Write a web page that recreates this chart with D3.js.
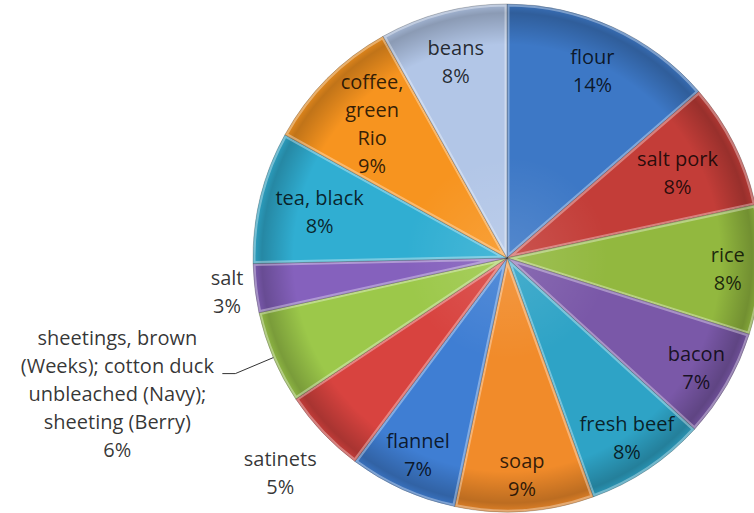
<!DOCTYPE html>
<html>
<head>
<meta charset="utf-8">
<script src="https://cdn.jsdelivr.net/npm/d3@7"></script>
<style>
  html, body { margin: 0; padding: 0; background: #fff; }
  svg { display: block; }
  text { font-family: "Open Sans", Lato, sans-serif; }
</style>
</head>
<body>
<svg id="chart" width="754" height="513"></svg>
<script>
// Share of supplies, clockwise from twelve o'clock
const categories = [
  "flour", "salt pork", "rice", "bacon", "fresh beef", "soap", "flannel",
  "satinets",
  "sheetings, brown (Weeks); cotton duck unbleached (Navy); sheeting (Berry)",
  "salt", "tea, black", "coffee, green Rio", "beans"
];
const shares = [13.6, 8.0, 8.2, 6.9, 7.7, 8.8, 6.9, 5.4, 5.9, 3.1, 8.4, 8.8, 8.1];
const sliceColors = [
  "#3d78c6", "#c33d38", "#92b83f", "#7a58a8", "#2ea3c6", "#f18b2a", "#3f7ed3",
  "#d8433f", "#9cc84a", "#8561bd", "#30aed2", "#f7941f", "#b2c6e7"
];

// Line breaks used by the data labels
const labelLines = {
  "coffee, green Rio": ["coffee,", "green", "Rio"],
  "sheetings, brown (Weeks); cotton duck unbleached (Navy); sheeting (Berry)":
    ["sheetings, brown", "(Weeks); cotton duck", "unbleached (Navy);", "sheeting (Berry)"]
};
// Radial placement of each label, as a fraction of the radius
const labelRadius = {
  "flour": 0.81, "salt pork": 0.75, "rice": 0.87, "bacon": 0.86, "fresh beef": 0.85,
  "soap": 0.855, "flannel": 0.85, "satinets": 1.23, "salt": 1.11,
  "tea, black": 0.76, "coffee, green Rio": 0.75, "beans": 0.80
};

const width = 754, height = 513;
const cx = 507, cy = 258, radius = 254;
const lineGap = 28;

const svg = d3.select("#chart");
svg.append("rect").attr("width", width).attr("height", height).attr("fill", "#fff");

const defs = svg.append("defs");
// Soft shading toward the rim of the pie (group coordinates, centre at 0,0)
const rim = defs.append("radialGradient")
  .attr("id", "rimShade").attr("gradientUnits", "userSpaceOnUse")
  .attr("cx", 0).attr("cy", 0).attr("r", radius);
[[0, "#fff", 0.12], [0.4, "#fff", 0], [0.84, "#000", 0], [0.965, "#000", 0.22], [1, "#000", 0.08]]
  .forEach(([o, c, op]) => rim.append("stop")
    .attr("offset", o).attr("stop-color", c).attr("stop-opacity", op));

const data = categories.map((name, i) => ({ name, value: shares[i], color: sliceColors[i] }));
const total = d3.sum(shares);
const pct = d3.format(".0%");

const pie = d3.pie().sort(null).value(d => d.value).startAngle(0).endAngle(2 * Math.PI);
const arcs = pie(data);
const arc = d3.arc().innerRadius(0).outerRadius(radius);

const g = svg.append("g").attr("transform", `translate(${cx},${cy})`);

arcs.forEach((a, i) => {
  defs.append("clipPath").attr("id", "clip" + i)
    .append("path").attr("d", arc(a));
});

const slices = g.selectAll("g.slice").data(arcs).join("g").attr("class", "slice");
slices.append("path").attr("d", arc).attr("fill", d => d.data.color);
slices.append("path").attr("d", arc).attr("fill", "url(#rimShade)");
// inner bevel highlight along each slice edge
slices.append("path").attr("d", arc)
  .attr("clip-path", (d, i) => `url(#clip${i})`)
  .attr("fill", "none").attr("stroke", "#fff").attr("stroke-opacity", 0.35)
  .attr("stroke-width", 5);
slices.append("path").attr("d", arc)
  .attr("fill", "none").attr("stroke", "#000").attr("stroke-opacity", 0.28)
  .attr("stroke-width", 0.8);

// Data labels
const labels = g.append("g");
arcs.forEach(a => {
  const name = a.data.name;
  const mid = (a.startAngle + a.endAngle) / 2;
  const lines = (labelLines[name] || [name]).concat(pct(a.data.value / total));
  let x, y;
  if (labelRadius[name] !== undefined) {
    const r = radius * labelRadius[name];
    x = Math.sin(mid) * r;
    y = -Math.cos(mid) * r;
  } else {
    // label placed outside with a leader line to the rim
    const px = Math.sin(mid) * radius, py = -Math.cos(mid) * radius;
    const elbowX = px - 38, elbowY = py + 16;
    g.append("polyline")
      .attr("points", [[px, py], [elbowX, elbowY], [elbowX - 13, elbowY]].map(p => p.join(",")).join(" "))
      .attr("fill", "none").attr("stroke", "#333").attr("stroke-width", 1);
    x = elbowX - 118;
    y = elbowY + 20;
  }
  const t = labels.append("text")
    .attr("text-anchor", "middle")
    .attr("font-size", 20)
    .attr("fill", "#000").attr("fill-opacity", 0.8);
  const top = y - (lines.length - 1) * lineGap / 2;
  lines.forEach((ln, k) => {
    t.append("tspan").attr("x", x).attr("y", top + k * lineGap)
      .attr("dominant-baseline", "central").text(ln);
  });
});
</script>
</body>
</html>
